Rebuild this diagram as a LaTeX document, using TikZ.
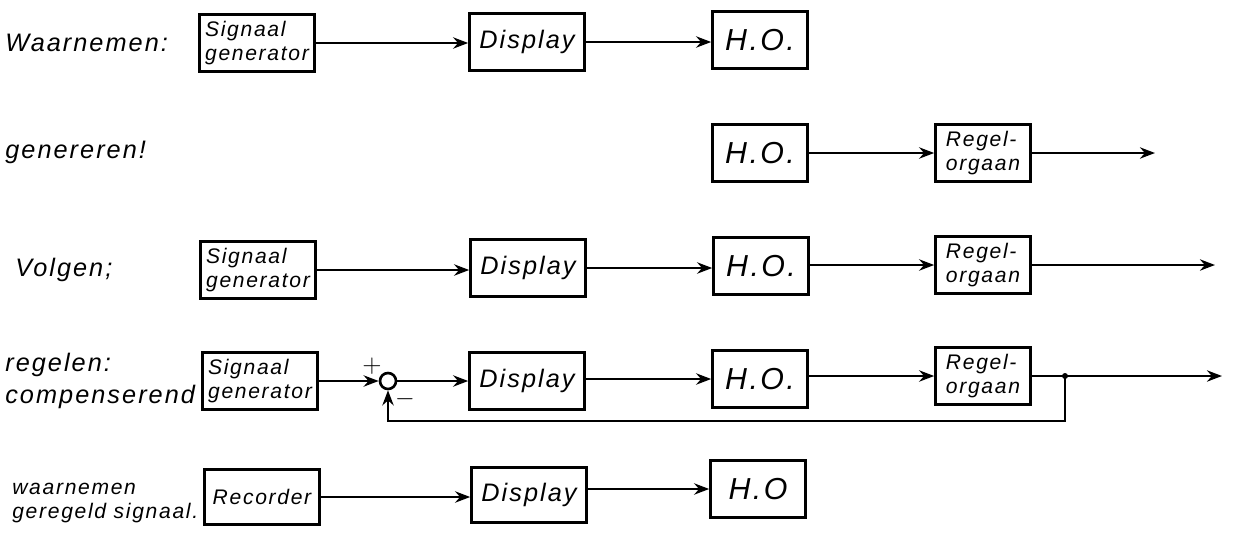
\documentclass[tikz,border=0pt]{standalone}
\usepackage{fontspec}
\newfontfamily\handfont[LetterSpace=8]{Liberation Sans}
\usepackage{tikz}
\usetikzlibrary{arrows.meta,positioning,calc}
\tikzset{
  blk/.style={draw, line width=1.5pt, minimum width=2.3cm, minimum height=1.15cm,
              inner sep=1pt, align=left, font=\handfont\itshape\large},
  dispblk/.style={blk, font=\handfont\itshape\Large},
  hoblk/.style={blk, minimum width=1.9cm, font=\handfont\itshape\LARGE},
  regblk/.style={blk, minimum width=1.9cm, font=\handfont\itshape\large},
  rowlbl/.style={anchor=west, align=left, inner sep=0pt, font=\handfont\itshape\Large},
  flowarr/.style={-{Stealth[length=3mm]}, line width=1.6pt},
}

\begin{document}
\begin{tikzpicture}[x=0.02cm, y=-0.02cm]
  \useasboundingbox (0,0) rectangle (1240,541);
  % --- waarnemen
  \node[rowlbl] (lblA) at (5,43) {Waarnemen:};
  \node[blk] (sgA) at (257,43) {Signaal\\generator};
  \node[dispblk] (dispA) at (527,42) {Display};
  \node[hoblk] (hoA) at (760,40) {H.O.};
  \draw[flowarr] (sgA.east) -- (sgA.east -| dispA.west);
  \draw[flowarr] (dispA.east) -- (dispA.east -| hoA.west);
  % --- genereren
  \node[rowlbl] (lblB) at (5,152) {genereren!};
  \node[hoblk] (hoB) at (760,153) {H.O.};
  \node[regblk] (regB) at (983,153) {Regel-\\orgaan};
  \coordinate (outB) at (1155,153);
  \draw[flowarr] (hoB) -- (regB);
  \draw[flowarr] (regB.east) -- (outB);
  % --- volgen
  \node[rowlbl] (lblC) at (15,270) {Volgen;};
  \node[blk] (sgC) at (258,270) {Signaal\\generator};
  \node[dispblk] (dispC) at (528,268) {Display};
  \node[hoblk] (hoC) at (761,266) {H.O.};
  \node[regblk] (regC) at (983,265) {Regel-\\orgaan};
  \coordinate (outC) at (1215,265);
  \draw[flowarr] (sgC.east) -- (sgC.east -| dispC.west);
  \draw[flowarr] (dispC.east) -- (dispC.east -| hoC.west);
  \draw[flowarr] (hoC.east |- regC) -- (regC.west);
  \draw[flowarr] (regC.east) -- (outC);
  % --- regelen, compenserend
  \node[rowlbl] (lblD) at (5,381) {regelen:\\compenserend};
  \node[blk] (sgD) at (260,381) {Signaal\\generator};
  \node[circle, draw, line width=1.5pt, minimum size=0.32cm, inner sep=0pt] (sum) at (388,381) {};
  \node[font=\Large] (plus) at (372,366) {$+$};
  \node[font=\Large] (minus) at (405,399) {$-$};
  \node[dispblk] (dispD) at (527,381) {Display};
  \node[hoblk] (hoD) at (760,379) {H.O.};
  \node[regblk] (regD) at (983,376) {Regel-\\orgaan};
  \coordinate (jn) at (1065,376);
  \coordinate (outD) at (1222,376);
  \coordinate (fb) at (1065,421);
  \draw[flowarr] (sgD.east |- sum) -- (sum.west);
  \draw[flowarr] (sum.east) -- (sum.east -| dispD.west);
  \draw[flowarr] (dispD.east |- hoD) -- (hoD.west);
  \draw[flowarr] (hoD.east |- regD) -- (regD.west);
  \draw[flowarr] (regD.east) -- (outD);
  \fill (jn) circle (3);
  \draw[flowarr] (jn) -- (fb) -| (sum.south);
  % --- waarnemen geregeld signaal
  \node[rowlbl, font=\handfont\itshape\large] (lblE) at (12,503) {waarnemen\\geregeld signaal.};
  \node[blk, font=\handfont\itshape\large, minimum height=1.1cm] (recE) at (262,497) {Recorder};
  \node[dispblk, minimum height=1.1cm] (dispE) at (529,495) {Display};
  \node[hoblk] (hoE) at (758,489) {H.O};
  \draw[flowarr] (recE.east) -- (recE.east -| dispE.west);
  \draw[flowarr] (dispE.east |- hoE) -- (hoE.west);
\end{tikzpicture}
\end{document}
